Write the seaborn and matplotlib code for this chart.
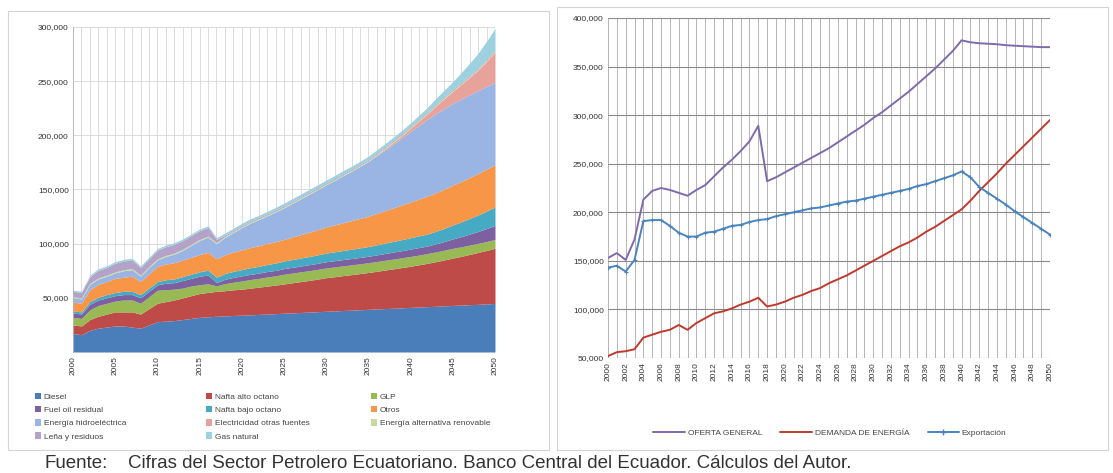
import numpy as np
import pandas as pd
import matplotlib
matplotlib.use("Agg")
import matplotlib.pyplot as plt
from matplotlib.patches import Rectangle
from matplotlib.lines import Line2D
from matplotlib.ticker import FuncFormatter
import seaborn as sns

# ---------------- data ----------------
years = list(range(2000, 2051))

series_names = [
    "Diesel", "Nafta alto octano", "GLP",
    "Fuel oil residual", "Nafta bajo octano", "Otros",
    "Energía hidroeléctrica", "Electricidad otras fuentes", "Energía alternativa renovable",
    "Leña y residuos", "Gas natural",
]

diesel = [17, 16, 20, 22, 23, 24, 24, 23, 22, 25, 28, 28.5, 29, 30, 31, 32, 32.5, 33, 33.3, 33.7,
          34, 34.3, 34.7, 35, 35.4, 35.8, 36.1, 36.5, 36.8, 37.2, 37.6, 37.9, 38.3, 38.6, 39, 39.4,
          39.7, 40.1, 40.4, 40.8, 41.2, 41.5, 41.9, 42.2, 42.6, 43, 43.3, 43.7, 44, 44.4, 44.8]
nafta_alto = [8, 8, 10, 11, 12, 13, 13, 14, 13, 15, 17, 18, 19, 20, 21, 22, 22.5, 23, 23.3, 23.7,
              24, 24.6, 25.2, 25.8, 26.4, 27, 27.8, 28.5, 29.3, 30.1, 31, 31.6, 32.2, 32.8, 33.4, 34,
              34.8, 35.6, 36.4, 37.2, 38, 39, 40, 41.2, 42.4, 43.7, 45, 46.4, 47.9, 49.4, 51]
glp = [7, 7, 9, 10, 10, 10, 11, 11, 10, 11, 12, 11, 10, 9, 9, 8, 8, 5, 6.5, 7,
       7.5, 8, 8, 8.5, 8.5, 9, 9, 9, 9, 9, 9, 9, 9, 9, 9, 9,
       9, 9, 9, 9, 9, 9, 9, 9, 9, 9, 8.8, 8.6, 8.4, 8.2, 8]
fuel_oil = [4, 4, 5, 5, 5, 5, 5, 5, 5, 5, 5, 6, 6, 7, 7, 8, 8, 3, 4, 4.5,
            4.7, 4.8, 4.9, 5, 5, 5.2, 5.3, 5.4, 5.5, 5.6, 5.7, 5.8, 5.8, 5.9, 5.9, 6,
            6.1, 6.3, 6.5, 6.6, 6.8, 6.9, 7, 7.5, 8, 8.7, 9.4, 10.2, 11, 12, 13]
nafta_bajo = [2, 2, 2.5, 2.5, 3, 3, 3, 3, 3, 3, 3, 3.2, 3.4, 3.6, 3.8, 4, 4.5, 5, 5.3, 5.6,
              5.9, 6.1, 6.3, 6.5, 6.8, 7, 7.2, 7.4, 7.6, 7.8, 8, 8.2, 8.4, 8.6, 8.8, 9,
              9.3, 9.6, 9.9, 10.2, 10.5, 10.8, 11, 11.6, 12.2, 12.9, 13.6, 14.4, 15.2, 16.1, 17]
otros = [8, 8, 11, 12, 12, 13, 13, 14, 12, 13, 14, 14.5, 15, 15.3, 15.6, 16, 16.5, 17, 17.4, 17.8,
         18.2, 18.6, 19, 19.4, 19.7, 20, 20.8, 21.6, 22.4, 23.2, 24, 24.8, 25.6, 26.4, 27.2, 28,
         29, 30, 31, 32, 33, 34, 35, 35.6, 36.2, 36.8, 37.3, 37.8, 38.3, 38.7, 39]
hidro = [4, 4, 5, 5, 5, 5, 6, 6, 5, 6, 6, 7, 8, 9, 11, 13, 14, 14, 16, 18,
         20.5, 22.5, 24, 25.5, 27.5, 29, 31, 33, 35, 37, 39, 41, 43.5, 45.5, 48, 50.5,
         53.5, 56, 59, 62, 65, 68, 71, 73, 74.5, 75.5, 76, 76.5, 76.5, 76.5, 76]
elec_otras = [0, 0, 0, 0, 0, 0, 0, 0, 0, 0, 0, 0, 0, 0, 0, 0, 0, 0, 0, 0,
              0, 0, 0, 0, 0, 0, 0, 0, 0, 0, 0, 0, 0, 0, 0, 0,
              0.5, 1, 1.5, 2, 3, 4, 5, 7, 9, 11, 13.5, 16, 19, 23, 28]
alt_renov = [1, 1, 1, 1, 1, 1, 1, 1, 1, 1, 1, 1, 1, 1, 1, 1, 1, 1, 1, 1,
             1, 1, 1, 1, 1, 1, 1, 1, 1, 1, 1, 1, 1, 1, 1, 1,
             1, 1, 1, 1, 1, 1, 1, 1, 1, 1, 1, 1, 1, 1, 1]
lena = [5, 5, 6, 7, 7, 8, 8, 8, 7, 7, 8, 8, 8, 8, 8, 8, 8, 3, 1, 1,
        1, 1, 1, 1, 1, 1, 1, 1, 1, 1, 1, 1, 1, 1, 1, 1,
        1, 1, 1, 1, 1, 1, 1, 1, 1, 1, 1, 1, 1, 1, 1]
gas_natural = [1, 1, 1.5, 1.5, 1.5, 1.5, 1.5, 1.5, 1.5, 1.5, 1.5, 1.5, 1.5, 1.5, 1.5, 1.5, 1.5, 1.5, 2, 2,
               2, 2, 2, 2, 2.2, 2.4, 2.4, 2.5, 2.5, 2.5, 2.5, 2.6, 2.6, 2.7, 2.7, 2.8,
               2.8, 2.9, 2.9, 3, 3, 3.5, 4, 5, 6, 7, 9, 11, 13.5, 16.5, 20]

# right chart (thousands)
oferta = [153, 158, 151, 172, 213, 222, 225, 223, 220, 217, 223, 228, 237, 246, 254, 263, 273, 289, 232, 236,
          241, 246, 251, 256, 261, 266, 272, 278, 284, 290, 297, 303, 310, 317, 324, 332,
          340, 348, 357, 366, 377, 375, 374, 373.5, 373, 372, 371.5, 371, 370.5, 370, 370]
demanda = [52, 56, 57, 59, 71, 74, 77, 79, 84, 79, 86, 91, 96, 98, 101, 105, 108, 112, 103, 105,
           108, 112, 115, 119, 122, 127, 131, 135, 140, 145, 150, 155, 160, 165, 169, 174,
           180, 185, 191, 197, 203, 212, 222, 231, 240, 250, 259, 268, 277, 286, 295]
exportacion = [143, 145, 139, 151, 191, 192, 192, 186, 179, 175, 175, 179, 180, 183, 186, 187, 190, 192, 193, 196,
               198, 200, 202, 204, 205, 207, 209, 211, 212, 214, 216, 218, 220, 222, 224, 227,
               229, 232, 235, 238, 242, 236, 226, 220, 214, 208, 201, 195, 189, 183, 177]
line_labels = ["OFERTA GENERAL", "DEMANDA DE ENERGÍA", "Exportación"]

left_xticks = list(range(2000, 2051, 5))
right_xticks = list(range(2000, 2051, 2))
left_yticks = [50000, 100000, 150000, 200000, 250000, 300000]
right_yticks = [50000, 100000, 150000, 200000, 250000, 300000, 350000, 400000]

footer_a = "Fuente:"
footer_b = "Cifras del Sector Petrolero Ecuatoriano. Banco Central del Ecuador. Cálculos del Autor."

# ---------------- style ----------------
sns.set_theme(style="white")
plt.rcParams["font.family"] = ["Liberation Sans", "DejaVu Sans"]

area_colors = ["#4A7EBB", "#BE4B48", "#98B954", "#7D60A0", "#46AAC5", "#F79646",
               "#9AB5E3", "#E8A29C", "#C7DB9E", "#B4A2C9", "#9DD1DF"]
line_colors = ["#7E6AAE", "#C0392F", "#4A84BE"]

fig = plt.figure(figsize=(11.13, 4.73), dpi=100)
W, H = 1113, 473

def fbox(x0, y0, x1, y1):
    return [x0 / W, 1 - y1 / H, (x1 - x0) / W, (y1 - y0) / H]

# panel frames
for (x0, y0, x1, y1) in [(8, 11, 549, 450), (557, 7, 1108, 450)]:
    fig.patches.append(Rectangle((x0 / W, 1 - y1 / H), (x1 - x0) / W, (y1 - y0) / H,
                                 transform=fig.transFigure, fill=False,
                                 edgecolor="#d4d4d4", lw=0.8))

fmt = FuncFormatter(lambda v, p: f"{int(v):,}")

# ---------------- left: stacked area ----------------
axL = fig.add_axes(fbox(73, 27, 495, 352))
stack_vals = [diesel, nafta_alto, glp, fuel_oil, nafta_bajo, otros, hidro,
              elec_otras, alt_renov, lena, gas_natural]
dfL = pd.DataFrame({n: np.array(v) * 1000 for n, v in zip(series_names, stack_vals)}, index=years)
for yv in years:
    axL.axvline(yv, color="#cfcfcf", lw=0.5, zorder=0)
for yt in left_yticks:
    axL.axhline(yt, color="#d6d6d6", lw=0.6, zorder=0)
polys = axL.stackplot(dfL.index, *[dfL[c].values for c in series_names],
                      colors=area_colors, labels=series_names, zorder=2, lw=0)
axL.set_xlim(2000, 2050)
axL.set_ylim(0, 300000)
axL.set_xticks(left_xticks)
axL.set_xticklabels([str(t) for t in left_xticks], rotation=90)
axL.set_yticks(left_yticks)
axL.yaxis.set_major_formatter(fmt)
axL.tick_params(axis="both", labelsize=6, colors="#333333", length=0, pad=3)
for s in axL.spines.values():
    s.set_visible(False)
axL.spines["left"].set_visible(True)
axL.spines["left"].set_color("#b0b0b0")
axL.spines["left"].set_linewidth(0.6)

# legend: three fixed columns, filled row by row
handles, labels = axL.get_legend_handles_labels()
col_x = [33, 204, 369]
for c in range(3):
    idx = list(range(c, len(series_names), 3))
    lg = fig.legend([handles[i] for i in idx], [labels[i] for i in idx],
                    loc="upper left", bbox_to_anchor=(col_x[c] / W, 1 - 391 / H),
                    ncol=1, frameon=False, fontsize=6, handlelength=0.8,
                    handleheight=0.8, handletextpad=0.3, labelspacing=0.62,
                    borderaxespad=0, borderpad=0.2)
    for t in lg.get_texts():
        t.set_color("#444444")

# ---------------- right: lines ----------------
axR = fig.add_axes(fbox(608, 18, 1050, 358))
dfR = pd.DataFrame({
    "year": years * 3,
    "valor": np.concatenate([np.array(oferta), np.array(demanda), np.array(exportacion)]) * 1000,
    "serie": sum([[lab] * len(years) for lab in line_labels], []),
})
for yv in years:
    axR.axvline(yv, color="#a9a9a9", lw=0.6, zorder=0)
for yt in right_yticks:
    axR.axhline(yt, color="#8a8a8a", lw=0.8, zorder=0)
sns.lineplot(data=dfR, x="year", y="valor", hue="serie", hue_order=line_labels,
             palette=line_colors, ax=axR, lw=1.4, legend=False, zorder=3)
sns.scatterplot(data=dfR[dfR["serie"] == line_labels[2]], x="year", y="valor",
                color=line_colors[2], ax=axR, marker="+", s=9,
                linewidth=0.8, legend=False, zorder=4)
axR.set_xlim(2000, 2050)
axR.set_ylim(50000, 400000)
axR.set_xticks(right_xticks)
axR.set_xticklabels([str(t) for t in right_xticks], rotation=90)
axR.set_yticks(right_yticks)
axR.yaxis.set_major_formatter(fmt)
axR.set_xlabel("")
axR.set_ylabel("")
axR.tick_params(axis="both", labelsize=6, colors="#333333", length=0, pad=3)
for s in axR.spines.values():
    s.set_visible(False)

lh = [Line2D([], [], color=line_colors[0], lw=1.4),
      Line2D([], [], color=line_colors[1], lw=1.4),
      Line2D([], [], color=line_colors[2], lw=1.4, marker="+", markersize=5)]
legR = fig.legend(lh, line_labels, loc="center", bbox_to_anchor=(830 / W, 1 - 433 / H),
                  ncol=3, frameon=False, fontsize=6, handlelength=3.8,
                  handletextpad=0.3, columnspacing=2.2)
for t in legR.get_texts():
    t.set_color("#444444")

# ---------------- footer ----------------
fig.text(44 / W, 1 - 463 / H, footer_a, fontsize=13.5, color="#333333", va="center",
         ha="left", family=["Liberation Sans", "DejaVu Sans"])
fig.text(128 / W, 1 - 463 / H, footer_b, fontsize=13.5, color="#333333", va="center",
         ha="left", family=["Liberation Sans", "DejaVu Sans"])

fig.savefig("out.png", dpi=100)
